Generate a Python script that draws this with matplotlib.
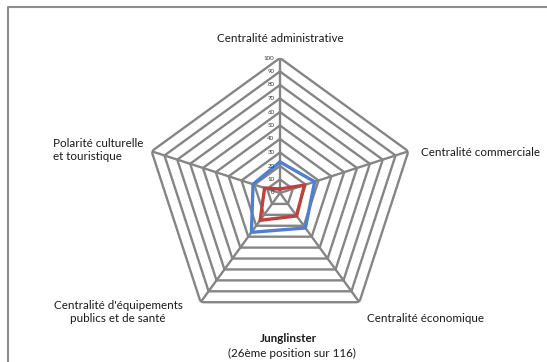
import numpy as np
import matplotlib
matplotlib.use('Agg')
import matplotlib.pyplot as plt
from matplotlib.lines import Line2D

plt.rcParams['font.family'] = ['Lato', 'DejaVu Sans']

# axes (clockwise from top)
categories = ['Centralité administrative', 'Centralité commerciale', 'Centralité économique',
              "Centralité d'équipements publics et de santé", 'Polarité culturelle et touristique']
blue_vals = [23, 27, 32, 36, 21]
red_vals = [3, 19, 21, 25, 12]
rings = [10, 20, 30, 40, 50, 60, 70, 80, 90, 100]
ring_labels = ['0', '10', '20', '30', '40', '50', '60', '70', '80', '90', '100']

W, H = 547, 362
fig = plt.figure(figsize=(W / 100, H / 100), dpi=100)
fig.patch.set_facecolor('white')

# center (280,193) px, radius 135 px
cx, cy, R = 280, 193, 135
ax = fig.add_axes([(cx - R) / W, (H - cy - R) / H, 2 * R / W, 2 * R / H], projection='polar')
ax.set_theta_zero_location('N')
ax.set_theta_direction(-1)
ax.set_ylim(0, 100)
ax.grid(False)
ax.spines['polar'].set_visible(False)
ax.set_xticks([])
ax.set_yticks([])
ax.patch.set_alpha(0)

n = len(categories)
theta = np.arange(n) * 2 * np.pi / n
tc = np.append(theta, theta[0])

grey = '#858585'
for r in rings:
    ax.plot(tc, [r] * (n + 1), color=grey, lw=1.7, zorder=1, solid_joinstyle='miter')
for t in theta:
    ax.plot([t, t], [0, 100], color=grey, lw=1.7, zorder=1)

ax.plot(tc, blue_vals + blue_vals[:1], color='#4f7fd0', lw=2.4, zorder=3, solid_joinstyle='miter')
ax.plot(tc, red_vals + red_vals[:1], color='#c0403d', lw=2.4, zorder=3, solid_joinstyle='miter')

for i, lab in enumerate(ring_labels):
    ax.annotate(lab, xy=(0, i * 10), xytext=(-4, 0), textcoords='offset points',
                ha='right', va='center', fontsize=4.4, color='#333333', zorder=4)

fs = 8.4
tcol = '#1a1a1a'
fig.text(280 / W, 1 - 38 / H, 'Centralité administrative', ha='center', va='center', fontsize=fs, color=tcol)
fig.text(421 / W, 1 - 152 / H, 'Centralité commerciale', ha='left', va='center', fontsize=fs, color=tcol)
fig.text(367 / W, 1 - 318 / H, 'Centralité économique', ha='left', va='center', fontsize=fs, color=tcol)
fig.text(118 / W, 1 - 312 / H, "Centralité d'équipements\npublics et de santé", ha='center', va='center',
         fontsize=fs, color=tcol, linespacing=1.3)
fig.text(53 / W, 1 - 150 / H, 'Polarité culturelle\net touristique', ha='left', va='center',
         fontsize=fs, color=tcol, linespacing=1.3)
fig.text(288 / W, 1 - 339 / H, 'Junglinster', ha='center', va='center', fontsize=fs, color=tcol, fontweight='bold')
fig.text(292 / W, 1 - 353 / H, '(26ème position sur 116)', ha='center', va='center', fontsize=fs, color=tcol)

# chart frame (left and top edges visible)
x0, y0 = 7.5 / W, 1 - 6.5 / H
fig.add_artist(Line2D([x0, x0, 1.0], [0, y0, y0], transform=fig.transFigure, color='#8c8c8c', lw=1.5))

fig.savefig('out.png', dpi=100)
